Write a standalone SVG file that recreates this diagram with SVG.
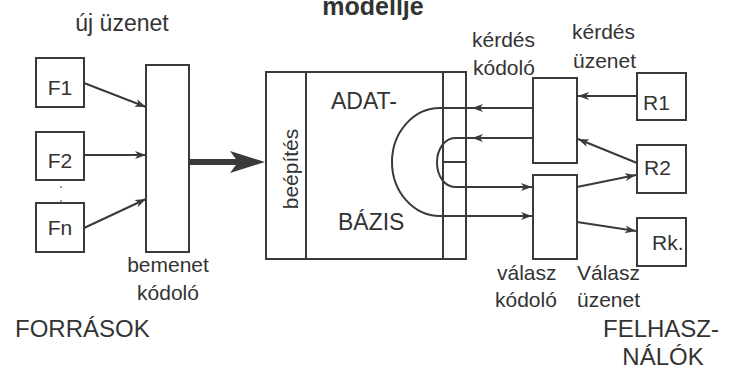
<svg xmlns="http://www.w3.org/2000/svg" width="734" height="369" viewBox="0 0 734 369">
<defs>
<style>
.box{fill:none;stroke:#3a3a3a;stroke-width:2}
.ln{fill:none;stroke:#3a3a3a;stroke-width:2}
.ar{fill:none;stroke:#3a3a3a;stroke-width:2;marker-end:url(#ah)}
text{font-family:"Liberation Sans",Arial,sans-serif;fill:#333;font-size:21px}
.big{font-size:24px}
.mid{text-anchor:middle}
</style>
<marker id="ah" markerWidth="12" markerHeight="10" refX="11" refY="5" orient="auto" markerUnits="userSpaceOnUse">
<path d="M0,1 L11,5 L0,9 L3,5 Z" fill="#3a3a3a"/>
</marker>
</defs>
<rect width="734" height="369" fill="#fff"/>
<text x="373" y="15" class="mid" style="font-weight:bold;font-size:25px">modellje</text>
<text x="122" y="31" class="mid" style="font-size:23px">új üzenet</text>

<g id="F1"><rect x="36" y="58" width="48" height="49" class="box"/><text x="60" y="95" class="mid">F1</text></g>
<g id="F2"><rect x="36" y="132" width="48" height="48" class="box"/><text x="60" y="168" class="mid">F2</text></g>
<g id="Fn"><rect x="36" y="203" width="48" height="49" class="box"/><text x="60" y="235" class="mid">Fn</text></g>
<g id="dots"><circle cx="61" cy="187" r="1" fill="#777"/><circle cx="61" cy="201" r="0.9" fill="#777"/></g>

<g id="bemenet"><rect x="146" y="65" width="43" height="187" class="box"/><text x="168" y="272" class="mid">bemenet</text><text x="168" y="300" class="mid">kódoló</text></g>

<g id="adatbazis">
<rect x="266" y="72" width="200" height="187" class="box"/>
<line x1="306" y1="72" x2="306" y2="259" class="ln"/>
<line x1="443" y1="72" x2="443" y2="259" class="ln"/>
<line x1="443" y1="162" x2="466" y2="162" class="ln"/>
<text transform="translate(298,169) rotate(-90)" class="mid">beépítés</text>
<text x="331" y="109" style="font-size:23px">ADAT-</text>
<text x="338" y="230" style="font-size:23px">BÁZIS</text>
</g>

<g id="kerdes-kodolo"><rect x="533" y="78" width="44" height="85" class="box"/><text x="472" y="47">kérdés</text><text x="473" y="75">kódoló</text></g>
<g id="valasz-kodolo"><rect x="533" y="175" width="44" height="84" class="box"/><text x="497" y="280">válasz</text><text x="495" y="307">kódoló</text></g>

<g id="R1"><rect x="637" y="73" width="49" height="47" class="box"/><text x="643" y="110">R1</text></g>
<g id="R2"><rect x="637" y="145" width="49" height="48" class="box"/><text x="644" y="175">R2</text></g>
<g id="Rk"><rect x="637" y="218" width="49" height="48" class="box"/><text x="652" y="250">Rk.</text></g>

<text x="572" y="39">kérdés</text>
<text x="573" y="68">üzenet</text>
<text x="577" y="280">Válasz</text>
<text x="577" y="307">üzenet</text>
<text x="15" y="337" class="big">FORRÁSOK</text>
<text x="661" y="337" class="big mid">FELHASZ-</text>
<text x="663" y="365" class="big mid">NÁLÓK</text>

<g id="connectors">
<line x1="84" y1="83" x2="146" y2="107" class="ar"/>
<line x1="84" y1="155" x2="146" y2="155" class="ar"/>
<line x1="84" y1="228" x2="146" y2="199" class="ar"/>
<line x1="189" y1="162" x2="240" y2="162" stroke="#3a3a3a" stroke-width="6"/>
<polygon points="265,162 230,151 238,162 230,173" fill="#3a3a3a"/>
<line x1="637" y1="96" x2="578" y2="96" class="ar"/>
<line x1="637" y1="163" x2="578" y2="139" class="ar"/>
<line x1="577" y1="187" x2="636" y2="175" class="ar"/>
<line x1="577" y1="222" x2="636" y2="231" class="ar"/>
<line x1="533" y1="108" x2="472" y2="108" class="ar"/>
<line x1="533" y1="138" x2="472" y2="138" class="ar"/>
<path d="M472,108 H440 A48,54 0 0 0 440,216 H532" class="ar"/>
<path d="M472,138 H455 A18,24.5 0 0 0 455,187 H532" class="ar"/>
</g>
</svg>
